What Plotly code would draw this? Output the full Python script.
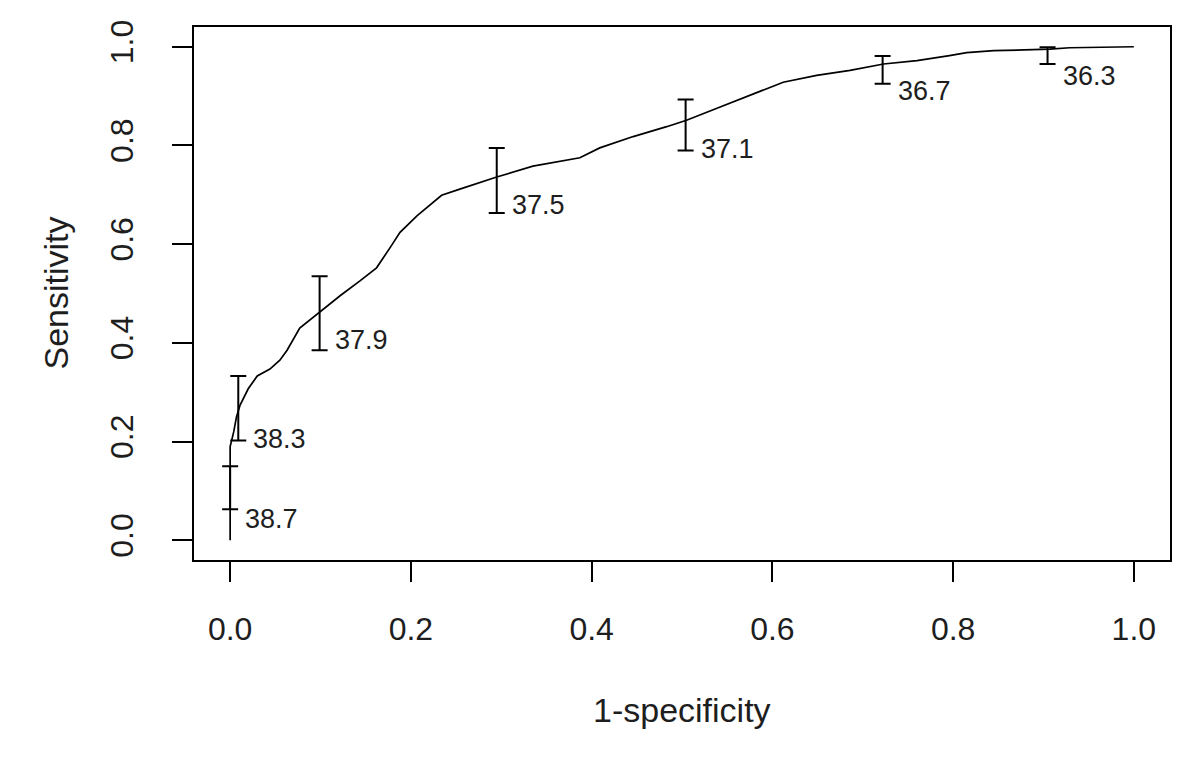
import plotly.graph_objects as go

# ROC curve (1-specificity vs sensitivity)
fpr = [0.0, 0.0, 0.004, 0.007, 0.011, 0.02, 0.03, 0.044, 0.055, 0.063, 0.077, 0.0996,
       0.122, 0.144, 0.162, 0.177, 0.188, 0.207, 0.234, 0.255, 0.295, 0.335, 0.365,
       0.387, 0.409, 0.446, 0.483, 0.505, 0.538, 0.575, 0.612, 0.649, 0.686, 0.723,
       0.760, 0.796, 0.815, 0.845, 0.907, 0.929, 1.0]
tpr = [0.0, 0.19, 0.22, 0.25, 0.274, 0.307, 0.333, 0.347, 0.365, 0.385, 0.43, 0.463,
       0.496, 0.526, 0.552, 0.593, 0.624, 0.658, 0.699, 0.712, 0.736, 0.758, 0.768,
       0.775, 0.795, 0.818, 0.838, 0.851, 0.875, 0.902, 0.928, 0.942, 0.952, 0.965,
       0.972, 0.982, 0.988, 0.992, 0.995, 0.998, 1.0]

# Threshold confidence intervals
thresholds = ["38.7", "38.3", "37.9", "37.5", "37.1", "36.7", "36.3"]
ci_x = [0.0, 0.009, 0.099, 0.295, 0.504, 0.722, 0.9045]
ci_sens = [0.107, 0.26, 0.463, 0.738, 0.848, 0.963, 0.985]
ci_low = [0.063, 0.202, 0.385, 0.663, 0.79, 0.925, 0.965]
ci_high = [0.15, 0.333, 0.535, 0.795, 0.893, 0.981, 0.999]
label_y = [0.044, 0.206, 0.406, 0.680, 0.792, 0.910, 0.940]

x_ticks = [0.0, 0.2, 0.4, 0.6, 0.8, 1.0]
x_ticktext = ["0.0", "0.2", "0.4", "0.6", "0.8", "1.0"]
y_ticks = [0.0, 0.2, 0.4, 0.6, 0.8, 1.0]
y_ticktext = ["0.0", "0.2", "0.4", "0.6", "0.8", "1.0"]

FONT = "Liberation Sans, Arial, sans-serif"
INK = "#1e1e1e"

fig = go.Figure()
fig.add_trace(go.Scatter(x=fpr, y=tpr, mode="lines",
                         line=dict(color="black", width=1.7), showlegend=False,
                         hoverinfo="skip"))
fig.add_trace(go.Scatter(
    x=ci_x, y=ci_sens, mode="markers", marker=dict(size=1, color="rgba(0,0,0,0)"),
    error_y=dict(type="data", symmetric=False,
                 array=[h - s for h, s in zip(ci_high, ci_sens)],
                 arrayminus=[s - l for s, l in zip(ci_sens, ci_low)],
                 color="black", thickness=2, width=8),
    showlegend=False))

for t, xv, yv in zip(thresholds, ci_x, label_y):
    fig.add_annotation(x=xv, y=yv, text=t, showarrow=False, xanchor="left",
                       yanchor="middle", xshift=13,
                       font=dict(family=FONT, size=27, color=INK))

fig.add_annotation(xref="paper", yref="paper", x=0.5, y=(560 - 712) / 539,
                   text="1-specificity", showarrow=False, xanchor="center",
                   yanchor="middle", font=dict(family=FONT, size=34, color=INK))
fig.add_annotation(xref="paper", yref="paper", x=(55 - 194) / 976, y=0.5,
                   text="Sensitivity", showarrow=False, textangle=-90,
                   xanchor="center", yanchor="middle",
                   font=dict(family=FONT, size=34, color=INK))

axis_common = dict(showgrid=False, zeroline=False, showline=True, mirror=True,
                   linecolor="black", linewidth=2, ticks="outside", ticklen=20,
                   tickwidth=2, tickcolor="black",
                   tickfont=dict(family=FONT, size=32, color=INK))
fig.update_xaxes(range=[-0.04, 1.04], tickvals=x_ticks, ticktext=x_ticktext,
                 ticklabelstandoff=20, **axis_common)
fig.update_yaxes(range=[-0.04, 1.04], tickvals=y_ticks, ticktext=y_ticktext,
                 tickangle=-90, ticklabelstandoff=26, **axis_common)

fig.update_layout(width=1192, height=758, plot_bgcolor="white", paper_bgcolor="white",
                  margin=dict(l=186, r=30, t=13, b=206), showlegend=False)

fig.write_html("out.html")
